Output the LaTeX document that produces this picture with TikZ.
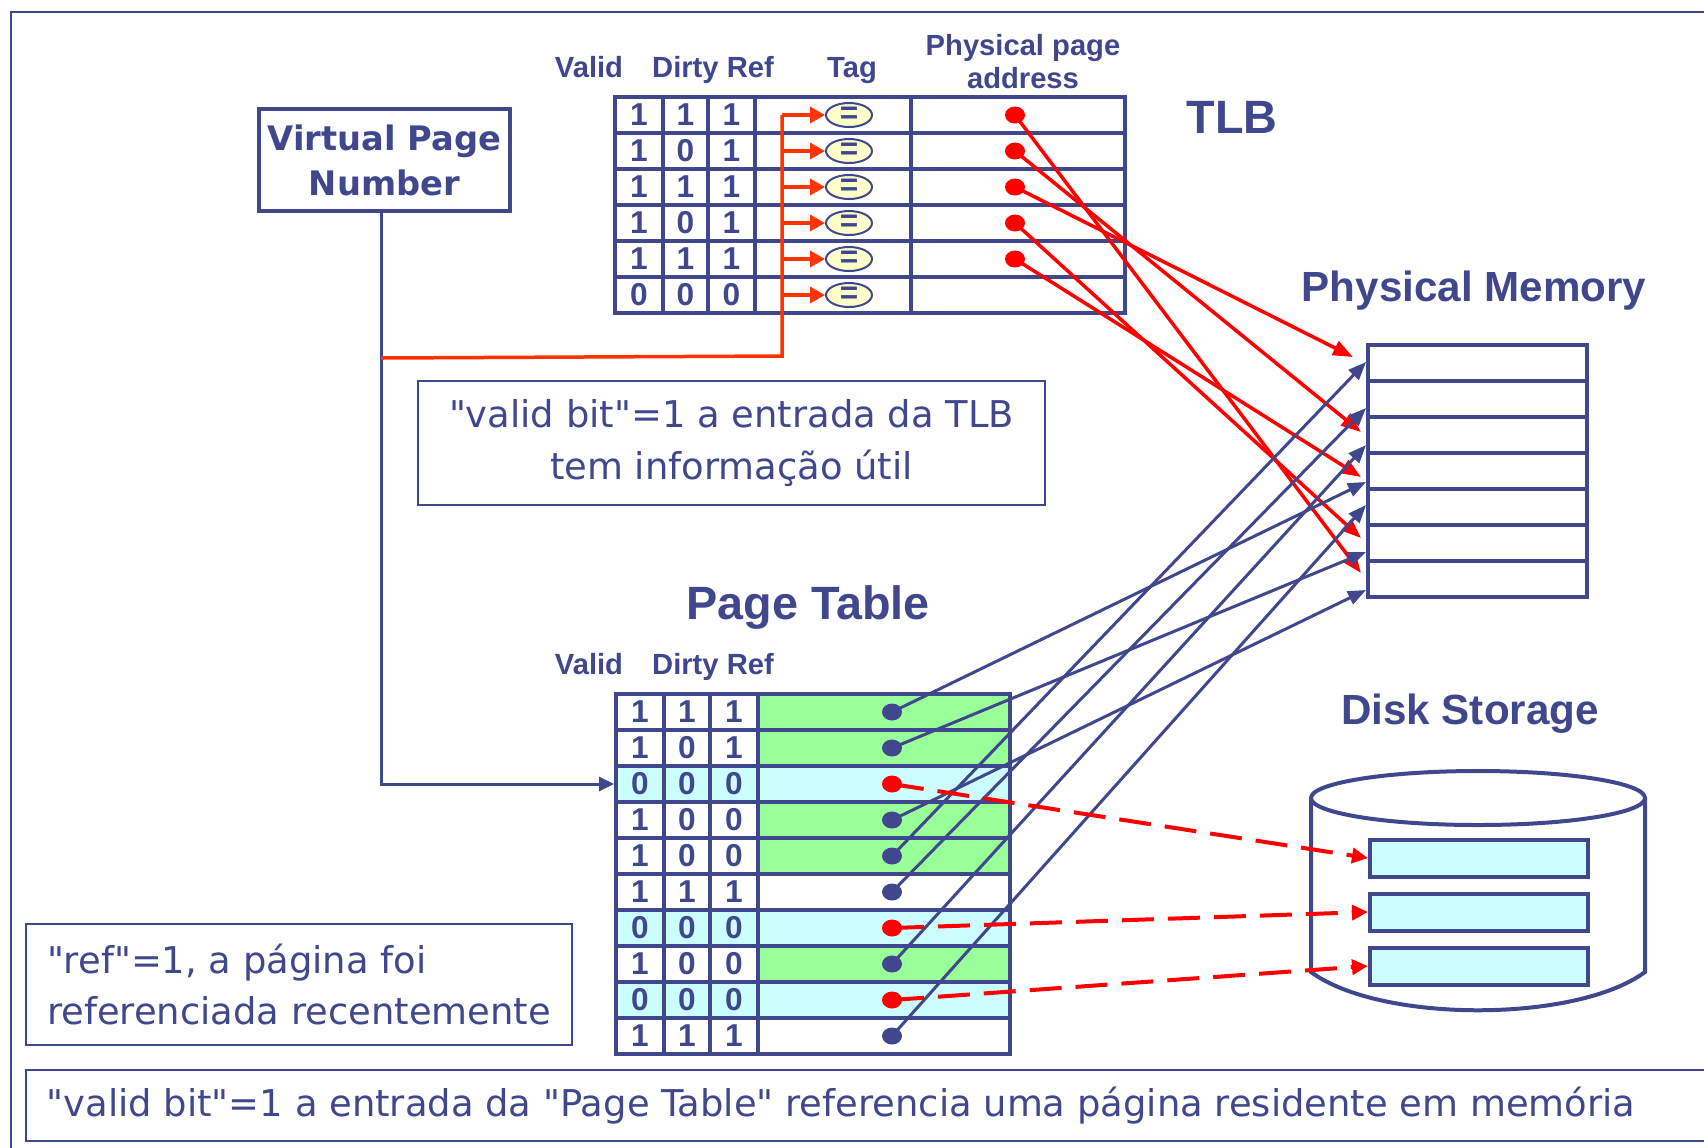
\documentclass[tikz,border=0pt]{standalone}
\usepackage{fontspec}
\setmainfont{DejaVu Sans}[Ligatures=TeXOff]
\newfontfamily\arialfont{Liberation Sans}
\usetikzlibrary{arrows.meta,calc,shapes.geometric}
\definecolor{navy}{RGB}{64,71,140}
\definecolor{okgreen}{RGB}{153,255,153}
\definecolor{misscyan}{RGB}{204,255,255}
\definecolor{eqyellow}{RGB}{255,255,204}
\definecolor{tagred}{RGB}{255,51,0}
\tikzset{
	bitcell/.style={draw=navy,line width=0.4mm,minimum height=3.6mm,inner sep=0pt,text=navy,font=\arialfont\bfseries\fontsize{9}{9}\selectfont},
	datacell/.style={draw=navy,line width=0.4mm,minimum height=3.6mm,inner sep=0pt},
	colhead/.style={text=navy,font=\arialfont\bfseries\fontsize{8.3}{9.4}\selectfont,align=center,inner sep=0pt},
	bigtitle/.style={text=navy,font=\arialfont\bfseries\fontsize{#1}{#1}\selectfont,inner sep=0pt},
	notetext/.style={text=navy,font=\fontsize{10.5}{14.6}\selectfont,inner sep=0pt},
	notebox/.style={notetext,draw=navy,line width=0.2mm},
	hitdot/.style={ellipse,fill=#1,minimum width=2mm,minimum height=1.7mm,inner sep=0pt},
	eqmark/.style={ellipse,draw=navy,line width=0.2mm,fill=eqyellow,minimum width=4.6mm,minimum height=2.4mm,inner sep=0pt,text=navy,font=\arialfont\bfseries\fontsize{9}{9}\selectfont},
	tagwire/.style={tagred,line width=0.35mm},
	tlbwire/.style={red,line width=0.35mm,-{Triangle[length=2mm,width=1.5mm]}},
	pagewire/.style={navy,line width=0.3mm,-{Triangle[length=1.8mm,width=1.4mm]}},
	diskwire/.style={red,line width=0.4mm,dash pattern=on 3.2mm off 1.4mm,-{Triangle[length=1.6mm,width=1.5mm]}}
}
\begin{document}
\begin{tikzpicture}[x=0.1mm,y=-0.1mm]
	\useasboundingbox (0,0) rectangle (1704,1147);
	\draw[navy,line width=0.25mm] (11,12) rectangle (1730,1170);

	\node[bigtitle=13.3] (tlbtitle) at (1232,117) {TLB};
	\node[bigtitle=12] (memtitle) at (1474,291) {Physical Memory};
	\node[bigtitle=13.3] (pttitle) at (808,607) {Page Table};
	\node[bigtitle=12] (disktitle) at (1470,714) {Disk Storage};

	\node[colhead,anchor=base] (tvalid) at (589,77) {Valid};
	\node[colhead,anchor=base] (tdirty) at (713,77) {Dirty Ref};
	\node[colhead,anchor=base] (ttaghd) at (852,77) {Tag};
	\node[colhead] (tppahd) at (1023,62) {Physical page\\address};
	\node[colhead,anchor=base] (pvalid) at (589,674) {Valid};
	\node[colhead,anchor=base] (pdirty) at (713,674) {Dirty Ref};

	\foreach \v/\d/\r [count=\i] in {1/1/1,1/0/1,1/1/1,1/0/1,1/1/1,0/0/0}{
		\node[bitcell,minimum width=4.8mm] (tv\i) at (639,79+36*\i) {\v};
		\node[bitcell,minimum width=4.5mm] (td\i) at (685.5,79+36*\i) {\d};
		\node[bitcell,minimum width=4.7mm] (tr\i) at (731.5,79+36*\i) {\r};
		\node[datacell,minimum width=15.6mm] (ttag\i) at (833,79+36*\i) {};
		\node[datacell,minimum width=21.4mm] (tppa\i) at (1018,79+36*\i) {};
		\node[eqmark] (teq\i) at (849,79+36*\i) {=};
	}
	\foreach \i in {1,...,5}
		\node[hitdot=red] (tdot\i) at (1015,79+36*\i) {};

	\foreach \v/\d/\r/\f/\b/\c [count=\i] in {1/1/1/okgreen/white/navy,1/0/1/okgreen/white/navy,0/0/0/misscyan/misscyan/red,1/0/0/okgreen/white/navy,1/0/0/okgreen/white/navy,1/1/1/white/white/navy,0/0/0/misscyan/misscyan/red,1/0/0/okgreen/white/navy,0/0/0/misscyan/misscyan/red,1/1/1/white/white/navy}{
		\node[bitcell,fill=\b,minimum width=4.8mm] (pv\i) at (640,676+36*\i) {\v};
		\node[bitcell,fill=\b,minimum width=4.6mm] (pd\i) at (687,676+36*\i) {\d};
		\node[bitcell,fill=\b,minimum width=4.8mm] (pr\i) at (734,676+36*\i) {\r};
		\node[datacell,fill=\f,minimum width=25.2mm] (pdata\i) at (884,676+36*\i) {};
		\node[hitdot=\c] (pdot\i) at (892,676+36*\i) {};
	}

	\foreach \i in {1,...,7}
		\node[datacell,minimum width=21.9mm] (m\i) at (1477.5,327+36*\i) {};

	\draw[navy,line width=0.4mm] (1311,798) -- (1311,972) .. controls (1380,1023) and (1576,1023) .. (1645,972) -- (1645,798);
	\draw[navy,line width=0.4mm,fill=white] (1478,798) ellipse [x radius=16.7mm,y radius=2.7mm];
	\foreach \i in {1,2,3}
		\node[datacell,fill=misscyan,minimum width=21.8mm,minimum height=3.7mm] (dk\i) at (1479,804+54*\i) {};

	\node[draw=navy,line width=0.4mm,minimum width=25.1mm,minimum height=10.2mm,text=navy,font=\bfseries\fontsize{9.6}{12.8}\selectfont,align=center,inner sep=0pt] (vpn) at (384.5,160) {Virtual Page\\Number};
	\node[notebox,minimum width=62.7mm,minimum height=12.4mm,align=center] (tlbnote) at (731.5,443) {"valid bit"=1 a entrada da TLB\\tem informação útil};
	\node[notebox,minimum width=54.6mm,minimum height=12.1mm,align=left] (refnote) at (299,984.5) {"ref"=1, a página foi\\referenciada recentemente};
	\draw[navy,line width=0.2mm] (26,1070) rectangle (1730,1141);
	\node[notetext,anchor=west] (resnote) at (46,1106) {"valid bit"=1 a entrada da "Page Table" referencia uma página residente em memória};

	\draw[navy,line width=0.3mm,-{Triangle[length=1.5mm,width=1.4mm]}] ($(vpn.south)+(-3.5,0)$) |- (pv3.west);
	\path (vpn.south) ++(-3.5,145) coordinate (tap);
	\coordinate (bus) at (782,356);
	\draw[tagwire] (tap) -- (bus) -- (bus |- teq1.west);
	\foreach \i in {1,...,6}
		\draw[tagwire,-{Triangle[length=1.5mm,width=1.6mm]}] (bus |- teq\i.west) -- (teq\i.west);

	\foreach \s/\t/\dx/\dy in {1/7/-5/-6,2/3/-5/-3,3/1/-13/-6,4/6/-5/-5,5/4/-5/6}
		\draw[tlbwire] (tdot\s.center) -- ($(m\t.west)+(\dx,\dy)$);
	\foreach \s/\t/\dy in {1/4/11,2/6/9,4/7/11,5/1/-1,6/2/9,8/3/10,10/5/-2}
		\draw[pagewire] (pdot\s.center) -- ($(m\t.west)+(0,\dy)$);
	\foreach \s/\t in {3/1,7/2,9/3}
		\draw[diskwire] (pdot\s.center) -- (dk\t.west);
\end{tikzpicture}
\end{document}
